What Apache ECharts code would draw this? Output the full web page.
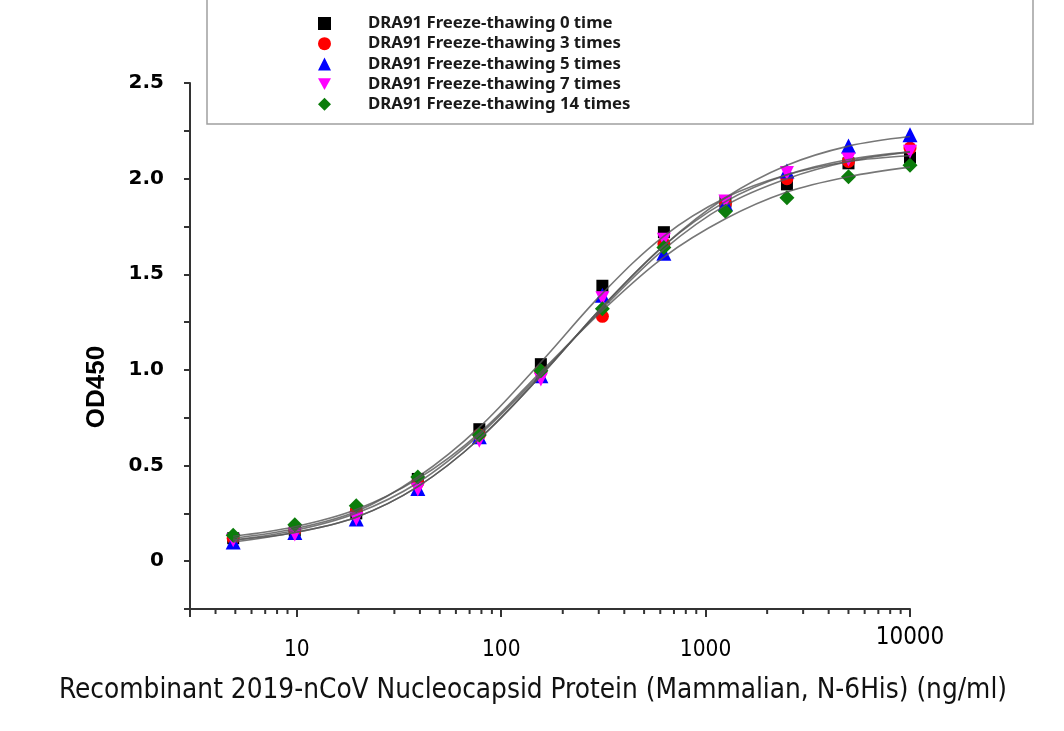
<!DOCTYPE html>
<html>
<head>
<meta charset="utf-8">
<script src="https://cdn.jsdelivr.net/npm/echarts@6/dist/echarts.min.js"></script>
<style>
  html, body { margin: 0; padding: 0; background: #fff; }
  #chart { width: 1064px; height: 731px; }
</style>
</head>
<body>
<div id="chart"></div>
<script>
// concentrations (ng/ml)
const xValues = [4.88, 9.77, 19.53, 39.06, 78.13, 156.25, 312.5, 625, 1250, 2500, 5000, 10000];

// measured OD450 points
const od0  = [0.12, 0.16, 0.25, 0.43, 0.69, 1.03, 1.44, 1.72, 1.88, 1.97, 2.08, 2.11];
const od3  = [0.12, 0.16, 0.26, 0.41, 0.66, 0.99, 1.28, 1.66, 1.87, 2.00, 2.09, 2.16];
const od5  = [0.10, 0.15, 0.22, 0.38, 0.65, 0.97, 1.39, 1.61, 1.87, 2.04, 2.17, 2.23];
const od7  = [0.11, 0.14, 0.22, 0.375, 0.63, 0.95, 1.375, 1.68, 1.88, 2.03, 2.10, 2.14];
const od14 = [0.135, 0.19, 0.29, 0.44, 0.66, 0.995, 1.32, 1.64, 1.83, 1.90, 2.01, 2.07];

// fitted curves at each concentration
const fit0  = [0.12, 0.17, 0.26, 0.44, 0.70, 1.04, 1.40, 1.70, 1.90, 2.02, 2.09, 2.12];
const fit3  = [0.11, 0.16, 0.25, 0.41, 0.66, 0.98, 1.32, 1.63, 1.86, 2.00, 2.09, 2.14];
const fit5  = [0.10, 0.15, 0.23, 0.39, 0.64, 0.97, 1.33, 1.65, 1.90, 2.07, 2.17, 2.22];
const fit7  = [0.11, 0.15, 0.23, 0.39, 0.64, 0.97, 1.33, 1.65, 1.88, 2.02, 2.10, 2.14];
const fit14 = [0.13, 0.18, 0.27, 0.43, 0.67, 0.99, 1.31, 1.59, 1.79, 1.93, 2.01, 2.06];

const seriesNames = [
  'DRA91 Freeze-thawing 0 time',
  'DRA91 Freeze-thawing 3 times',
  'DRA91 Freeze-thawing 5 times',
  'DRA91 Freeze-thawing 7 times',
  'DRA91 Freeze-thawing 14 times'
];
const xMajorTicks = [10, 100, 1000, 10000];
const xMinorTicks = [4, 5, 6, 7, 8, 9, 20, 30, 40, 50, 60, 70, 80, 90,
                     200, 300, 400, 500, 600, 700, 800, 900,
                     2000, 3000, 4000, 5000, 6000, 7000, 8000, 9000];
const yTickLabels = ['0', '0.5', '1.0', '1.5', '2.0', '2.5'];

const X_MIN = 3, X_MAX = 10000, Y_MIN = -0.25, Y_MAX = 2.5;

const odSets = [od0, od3, od5, od7, od14];
const fitSets = [fit0, fit3, fit5, fit7, fit14];
const colors = ['#000000', '#ff0000', '#0000ff', '#ff00ff', '#0b7d0b'];
const symbols = ['rect', 'circle', 'triangle', 'path://M0,0 L10,0 L5,9 Z', 'diamond'];
const sizes = [12, 13, 15, 14, 15];

const condensed = "'Liberation Sans Narrow', 'DejaVu Sans Condensed', 'Noto Sans', sans-serif";

const series = [];
fitSets.forEach((f, k) => {
  series.push({
    name: 'fit' + k,
    type: 'line',
    data: xValues.map((x, i) => [x, f[i]]),
    symbol: 'none',
    smooth: 0.35,
    lineStyle: { color: '#555555', width: 1.6, opacity: 0.8 },
    z: 3,
    silent: true
  });
});
odSets.forEach((d, k) => {
  series.push({
    name: seriesNames[k],
    type: 'scatter',
    data: xValues.map((x, i) => [x, d[i]]),
    symbol: symbols[k],
    symbolSize: sizes[k],
    itemStyle: { color: colors[k], opacity: 1 },
    z: 2
  });
});
series.push({
  type: 'custom',
  name: 'minorTicks',
  coordinateSystem: 'cartesian2d',
  silent: true,
  clip: false,
  z: 5,
  data: xMinorTicks.map(v => [v, Y_MIN]),
  renderItem: function (params, api) {
    const p = api.coord([api.value(0), api.value(1)]);
    return {
      type: 'line',
      shape: { x1: p[0], y1: p[1], x2: p[0], y2: p[1] + 5 },
      style: { stroke: '#333', lineWidth: 2 }
    };
  }
});

const chart = echarts.init(document.getElementById('chart'), null, { renderer: 'canvas' });
chart.setOption({
  animation: false,
  backgroundColor: '#ffffff',
  graphic: [{
    type: 'rect',
    shape: { x: 207, y: -5, width: 826, height: 129 },
    style: { fill: 'none', stroke: '#a0a0a0', lineWidth: 1.5 },
    z: 0
  }],
  legend: {
    data: seriesNames,
    orient: 'vertical',
    left: 318,
    top: 15,
    padding: 0,
    itemWidth: 13,
    itemHeight: 13,
    itemGap: 3.2,
    selectedMode: false,
    textStyle: {
      fontFamily: "'Noto Sans', sans-serif",
      fontWeight: 'bold',
      fontSize: 16.8,
      color: '#1a1a1a',
      lineHeight: 13,
      padding: [0, 0, 0, 32]
    }
  },
  grid: { left: 190, right: 154, top: 83, bottom: 122, containLabel: false },
  xAxis: {
    type: 'log',
    logBase: 10,
    min: X_MIN,
    max: X_MAX,
    name: 'Recombinant 2019-nCoV Nucleocapsid Protein (Mammalian, N-6His) (ng/ml)',
    nameLocation: 'middle',
    nameGap: 68,
    nameTextStyle: {
      fontFamily: condensed,
      fontSize: 27.7,
      color: '#111',
      padding: [0, 34, 0, 0]
    },
    axisLine: { show: true, onZero: false, lineStyle: { color: '#333', width: 2 } },
    axisTick: { show: true, inside: false, length: 8, lineStyle: { color: '#333', width: 2 } },
    minorTick: { show: false },
    splitLine: { show: false },
    axisLabel: {
      margin: 8,
      formatter: function (v) {
        const r = Math.round(v);
        if (xMajorTicks.indexOf(r) < 0) return '';
        return r === 10000 ? '{b|' + r + '}' : '{a|' + r + '}';
      },
      rich: {
        a: { fontFamily: condensed, fontSize: 22.5, color: '#000', lineHeight: 66 },
        b: { fontFamily: condensed, fontSize: 24, color: '#000', lineHeight: 42 }
      }
    }
  },
  yAxis: {
    type: 'value',
    min: Y_MIN,
    max: Y_MAX,
    interval: 0.25,
    name: 'OD450',
    nameLocation: 'middle',
    nameGap: 80,
    nameRotate: 90,
    nameTextStyle: {
      fontFamily: "'Liberation Sans', Arial, sans-serif",
      fontWeight: 'bold',
      fontSize: 26,
      color: '#000',
      padding: [0, 82, 0, 0]
    },
    axisLine: { show: true, onZero: false, lineStyle: { color: '#333', width: 2 } },
    axisTick: { show: true, inside: false, length: 6, lineStyle: { color: '#333', width: 2 } },
    splitLine: { show: false },
    axisLabel: {
      margin: 26,
      fontFamily: "'DejaVu Sans', sans-serif",
      fontWeight: 'bold',
      fontSize: 20,
      color: '#000',
      formatter: function (v) {
        const k = Math.round(v * 2);
        if (Math.abs(v * 2 - k) > 1e-6 || k < 0) return '';
        return yTickLabels[k] || '';
      }
    }
  },
  series: series
});
</script>
</body>
</html>
